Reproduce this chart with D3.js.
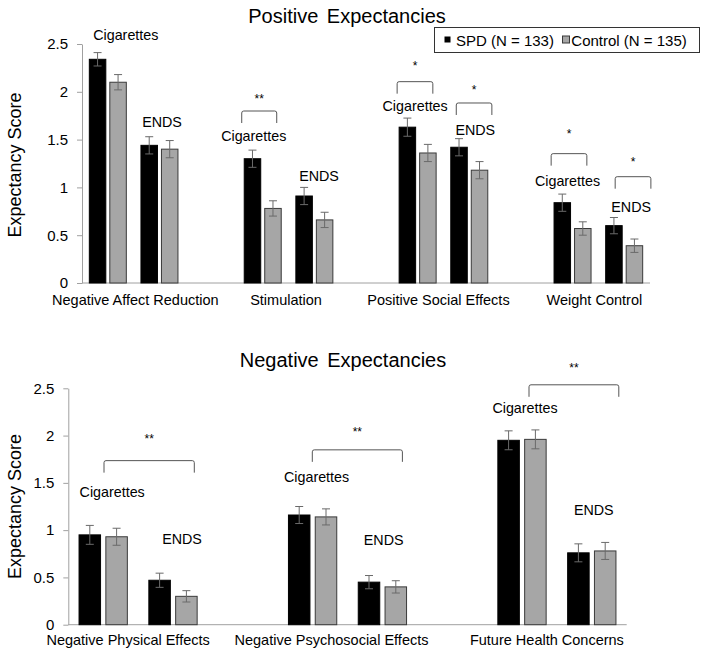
<!DOCTYPE html>
<html>
<head>
<meta charset="utf-8">
<script src="https://cdn.jsdelivr.net/npm/d3@7"></script>
<style>
  body { margin: 0; background: #fff; }
  svg { display: block; font-family: "Liberation Sans", Arial, sans-serif; }
</style>
</head>
<body>
<script>
// ---------------- DATA ----------------
const posCategories = ["Negative Affect Reduction", "Stimulation", "Positive Social Effects", "Weight Control"];
const posSPDCig     = [2.34, 1.30, 1.63, 0.84];
const posCtrlCig    = [2.10, 0.78, 1.36, 0.57];
const posSPDEnds    = [1.44, 0.91, 1.42, 0.60];
const posCtrlEnds   = [1.40, 0.66, 1.18, 0.39];
const posSPDCigErr  = [0.07, 0.09, 0.095, 0.09];
const posCtrlCigErr = [0.08, 0.08, 0.09, 0.07];
const posSPDEndsErr = [0.09, 0.09, 0.09, 0.085];
const posCtrlEndsErr= [0.09, 0.08, 0.09, 0.07];

const negCategories = ["Negative Physical Effects", "Negative Psychosocial Effects", "Future Health Concerns"];
const negSPDCig     = [0.95, 1.16, 1.95];
const negCtrlCig    = [0.93, 1.14, 1.96];
const negSPDEnds    = [0.47, 0.45, 0.76];
const negCtrlEnds   = [0.30, 0.40, 0.78];
const negSPDCigErr  = [0.10, 0.09, 0.10];
const negCtrlCigErr = [0.09, 0.085, 0.10];
const negSPDEndsErr = [0.075, 0.07, 0.095];
const negCtrlEndsErr= [0.06, 0.065, 0.09];

const yTickValues = [0, 0.5, 1, 1.5, 2, 2.5];
const yTickLabels = ["0", "0.5", "1", "1.5", "2", "2.5"];
const seriesNames = ["SPD (N = 133)", "Control (N = 135)"];
const productNames = ["Cigarettes", "ENDS"];

// annotations (significance brackets)
const posBrackets = [
  {from: "1-cig", dx1: -21, to: "1-cig", dx2: 14, v: 1.799, stars: "**", sv: 1.878},
  {from: "2-cig", dx1: -20.5, to: "2-cig", dx2: 15.2, v: 2.106, stars: "*", sv: 2.230},
  {from: "2-ends", dx1: -13, to: "2-ends", dx2: 22.6, v: 1.883, stars: "*", sv: 1.982},
  {from: "3-cig", dx1: -21.4, to: "3-cig", dx2: 14.3, v: 1.353, stars: "*", sv: 1.512},
  {from: "3-ends", dx1: -9, to: "3-ends", dx2: 26.7, v: 1.112, stars: "*", sv: 1.226}
];
const posLabels = [
  {slot: "0-cig", dx: 18, v: 2.537, p: 0}, {slot: "0-ends", dx: 2.6, v: 1.635, p: 1},
  {slot: "1-cig", dx: -9, v: 1.485, p: 0}, {slot: "1-ends", dx: 4.7, v: 1.070, p: 1},
  {slot: "2-cig", dx: -2.5, v: 1.799, p: 0}, {slot: "2-ends", dx: 6, v: 1.548, p: 1},
  {slot: "3-cig", dx: -5, v: 1.015, p: 0}, {slot: "3-ends", dx: 7, v: 0.743, p: 1}
];
const negBrackets = [
  {from: "0-cig", dx1: 0.8, to: "0-ends", dx2: 21.3, v: 1.735, stars: "**", sv: 1.917},
  {from: "1-cig", dx1: -0.3, to: "1-ends", dx2: 20, v: 1.849, stars: "**", sv: 1.999},
  {from: "2-cig", dx1: 7, to: "2-ends", dx2: 27, v: 2.537, stars: "**", sv: 2.676}
];
const negLabels = [
  {slot: "0-cig", dx: 9, v: 1.354, p: 0}, {slot: "0-ends", dx: 9, v: 0.854, p: 1},
  {slot: "1-cig", dx: 4, v: 1.513, p: 0}, {slot: "1-ends", dx: 1.3, v: 0.843, p: 1},
  {slot: "2-cig", dx: 3, v: 2.237, p: 0}, {slot: "2-ends", dx: 2, v: 1.161, p: 1}
];

// ---------------- DRAW ----------------
const W = 704, H = 657;
const svg = d3.select("body").append("svg").attr("width", W).attr("height", H);
const COL_SPD = "#000000", COL_CTRL = "#a6a6a6", AXIS = "#a0a0a0";

function drawPanel(cfg) {
  const slots = [];
  cfg.categories.forEach((c, i) => {
    slots.push(i + "-cig", i + "-ends");
    if (i < cfg.categories.length - 1) slots.push("gap" + i);
  });
  const x = d3.scaleBand().domain(slots).range(cfg.xRange).padding(0);
  const cx = s => x(s) + x.bandwidth() / 2;
  const y = d3.scaleLinear().domain([0, 2.5]).range(cfg.yRange);
  const g = svg.append("g");

  // title
  g.append("text").attr("x", cfg.titleX).attr("y", cfg.titleY)
    .attr("text-anchor", "middle").attr("font-size", 20).attr("word-spacing", 3)
    .text(cfg.title);

  // y axis
  const ax = g.append("g").attr("transform", `translate(${cfg.xRange[0]},0)`)
    .call(d3.axisLeft(y).tickValues(yTickValues).tickSize(5).tickSizeOuter(0).tickPadding(9)
      .tickFormat((d, i) => yTickLabels[i]));
  ax.select(".domain").attr("stroke", AXIS);
  ax.selectAll(".tick line").attr("stroke", AXIS);
  ax.selectAll(".tick text").attr("font-size", 15).attr("fill", "#000")
    .attr("font-family", "Liberation Sans, Arial, sans-serif");

  // baseline
  g.append("line").attr("x1", cfg.xRange[0]).attr("x2", cfg.xRange[1])
    .attr("y1", y(0)).attr("y2", y(0)).attr("stroke", AXIS).attr("stroke-width", 1);

  // y title
  g.append("text").attr("transform", `translate(${cfg.yTitleX},${(cfg.yRange[0] + cfg.yRange[1]) / 2 + cfg.yTitleDy}) rotate(-90)`)
    .attr("text-anchor", "middle").attr("font-size", 18).text("Expectancy Score");

  // bars
  const bars = [];
  cfg.categories.forEach((c, i) => {
    bars.push({slot: i + "-cig", s: 0, v: cfg.spdCig[i], e: cfg.spdCigErr[i]});
    bars.push({slot: i + "-cig", s: 1, v: cfg.ctrlCig[i], e: cfg.ctrlCigErr[i]});
    bars.push({slot: i + "-ends", s: 0, v: cfg.spdEnds[i], e: cfg.spdEndsErr[i]});
    bars.push({slot: i + "-ends", s: 1, v: cfg.ctrlEnds[i], e: cfg.ctrlEndsErr[i]});
  });
  const bx = d => d.s === 0 ? cx(d.slot) - cfg.gap / 2 - cfg.barW : cx(d.slot) + cfg.gap / 2;
  g.selectAll("rect.bar").data(bars).enter().append("rect")
    .attr("x", bx).attr("width", cfg.barW)
    .attr("y", d => y(d.v)).attr("height", d => y(0) - y(d.v))
    .attr("fill", d => d.s === 0 ? COL_SPD : COL_CTRL)
    .attr("stroke", d => d.s === 0 ? "#000" : "#3a3a3a").attr("stroke-width", 1);

  // error bars
  const eg = g.selectAll("g.err").data(bars).enter().append("g").attr("stroke", "#6a6a6a").attr("stroke-width", 1);
  const ecx = d => bx(d) + cfg.barW / 2;
  eg.append("line").attr("x1", ecx).attr("x2", ecx).attr("y1", d => y(d.v + d.e)).attr("y2", d => y(d.v - d.e));
  eg.append("line").attr("x1", d => ecx(d) - 4).attr("x2", d => ecx(d) + 4).attr("y1", d => y(d.v + d.e)).attr("y2", d => y(d.v + d.e));
  eg.append("line").attr("x1", d => ecx(d) - 4).attr("x2", d => ecx(d) + 4).attr("y1", d => y(d.v - d.e)).attr("y2", d => y(d.v - d.e));

  // category labels
  cfg.categories.forEach((c, i) => {
    const mid = (cx(i + "-cig") + cx(i + "-ends")) / 2 + cfg.catDx[i];
    g.append("text").attr("x", mid).attr("y", cfg.catY).attr("text-anchor", "middle")
      .attr("font-size", 14.5).text(c);
  });

  // product labels
  g.selectAll("text.prod").data(cfg.labels).enter().append("text")
    .attr("x", d => cx(d.slot) + d.dx).attr("y", d => y(d.v))
    .attr("text-anchor", "middle").attr("font-size", 14.3).text(d => productNames[d.p]);

  // brackets
  cfg.brackets.forEach(b => {
    const x1 = cx(b.from) + b.dx1, x2 = cx(b.to) + b.dx2, yt = y(b.v), yl = yt + 12;
    g.append("path").attr("d", `M${x1},${yl} L${x1},${yt + 2} Q${x1},${yt} ${x1 + 2},${yt} L${x2 - 2},${yt} Q${x2},${yt} ${x2},${yt + 2} L${x2},${yl}`)
      .attr("fill", "none").attr("stroke", "#555").attr("stroke-width", 1);
    g.append("text").attr("x", (x1 + x2) / 2).attr("y", y(b.sv)).attr("text-anchor", "middle")
      .attr("font-size", 12).text(b.stars);
  });
}

drawPanel({
  title: "Positive Expectancies", titleX: 347, titleY: 22.5,
  categories: posCategories,
  spdCig: posSPDCig, ctrlCig: posCtrlCig, spdEnds: posSPDEnds, ctrlEnds: posCtrlEnds,
  spdCigErr: posSPDCigErr, ctrlCigErr: posCtrlCigErr, spdEndsErr: posSPDEndsErr, ctrlEndsErr: posCtrlEndsErr,
  xRange: [82, 650], yRange: [283, 44], barW: 16.5, gap: 4,
  yTitleX: 21, yTitleDy: 1.5, catY: 305, catDx: [1.7, -2.5, -5, -4],
  labels: posLabels, brackets: posBrackets
});
drawPanel({
  title: "Negative Expectancies", titleX: 343, titleY: 367,
  categories: negCategories,
  spdCig: negSPDCig, ctrlCig: negCtrlCig, spdEnds: negSPDEnds, ctrlEnds: negCtrlEnds,
  spdCigErr: negSPDCigErr, ctrlCigErr: negCtrlCigErr, spdEndsErr: negSPDEndsErr, ctrlEndsErr: negCtrlEndsErr,
  xRange: [68.3, 626.7], yRange: [624.7, 388.3], barW: 21.5, gap: 5.3,
  yTitleX: 21, yTitleDy: 0, catY: 645, catDx: [-10, -16, -10],
  labels: negLabels, brackets: negBrackets
});

// legend
const lg = svg.append("g");
lg.append("rect").attr("x", 434.5).attr("y", 27.5).attr("width", 265).attr("height", 25)
  .attr("fill", "#fff").attr("stroke", "#333").attr("stroke-width", 1);
lg.append("rect").attr("x", 444.5).attr("y", 36.5).attr("width", 6).attr("height", 6).attr("fill", COL_SPD);
lg.append("text").attr("x", 456).attr("y", 45.5).attr("font-size", 15).text(seriesNames[0]);
lg.append("rect").attr("x", 562.5).attr("y", 36).attr("width", 7).attr("height", 7)
  .attr("fill", COL_CTRL).attr("stroke", "#3a3a3a").attr("stroke-width", 1);
lg.append("text").attr("x", 571.3).attr("y", 45.5).attr("font-size", 15).text(seriesNames[1]);
</script>
</body>
</html>
